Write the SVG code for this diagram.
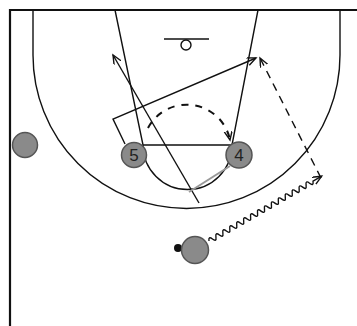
<svg xmlns="http://www.w3.org/2000/svg" width="357" height="326" viewBox="0 0 357 326">
<style>
.court{fill:none;stroke:#111;stroke-width:1.4}
.move{fill:none;stroke:#111;stroke-width:1.4}
.cut{fill:none;stroke:#111;stroke-width:1.4;stroke-dasharray:8 6}
.arcd{fill:none;stroke:#111;stroke-width:2;stroke-dasharray:7 7}
.player{fill:#8a8a8a;stroke:#555;stroke-width:1.5}
.lbl{font-family:"Liberation Sans",Arial,sans-serif;font-size:17px;fill:#222;text-anchor:middle}
</style>
<defs>
<marker id="ah" markerUnits="userSpaceOnUse" markerWidth="12" markerHeight="10" refX="9" refY="4" orient="auto">
<path d="M0,0 L9,4 L0,8" fill="none" stroke="#111" stroke-width="1.4"/>
</marker>
</defs>
<rect width="357" height="326" fill="#fff"/>
<g id="court">
<path d="M10,326 L10,10 L357,10" fill="none" stroke="#111" stroke-width="2.2"/>
<path class="court" d="M33,10 L33,55 A153.5,153.5 0 0 0 340,55 L340,10"/>
<path class="court" d="M115,10 L143,145 L232,145 L258,10"/>
<path class="court" d="M143,145 A44.5,44.5 0 0 0 232,145"/>
<line class="court" x1="164" y1="39" x2="209" y2="39" stroke-width="2"/>
<circle class="court" cx="186" cy="45" r="5" stroke-width="2"/>
</g>
<g id="connectors">
<path class="move" d="M125,144 L113,119 L256,58" marker-end="url(#ah)"/>
<path class="move" d="M199,203 L113,55" marker-end="url(#ah)"/>
<path class="arcd" d="M148,128 A44,44 0 0 1 230,140" marker-end="url(#ah)"/>
<path class="cut" d="M321,178 L260,58" marker-end="url(#ah)"/>
<line x1="230" y1="166" x2="189" y2="192" stroke="#999" stroke-width="2"/>
<path class="move" transform="translate(209,241) rotate(-29.9)" d="M0,0 q2,-5 4,0 t4,0 t4,0 t4,0 t4,0 t4,0 t4,0 t4,0 t4,0 t4,0 t4,0 t4,0 t4,0 t4,0 t4,0 t4,0 t4,0 t4,0 t4,0 t4,0 t4,0 t4,0 t4,0 t4,0 t4,0 t4,0 t4,0 t4,0 t4,0 t4,0 L130,0" marker-end="url(#ah)"/>
</g>
<g id="player5">
<circle class="player" cx="134" cy="155" r="12.5"/>
<text class="lbl" x="134" y="161">5</text>
</g>
<g id="player4">
<circle class="player" cx="239" cy="155" r="13"/>
<text class="lbl" x="239" y="161">4</text>
</g>
<g id="playerLeft">
<circle class="player" cx="25" cy="145" r="12.5"/>
</g>
<g id="playerBall">
<circle cx="178" cy="248" r="4" fill="#111"/>
<circle class="player" cx="195" cy="250" r="13.5"/>
</g>
</svg>
